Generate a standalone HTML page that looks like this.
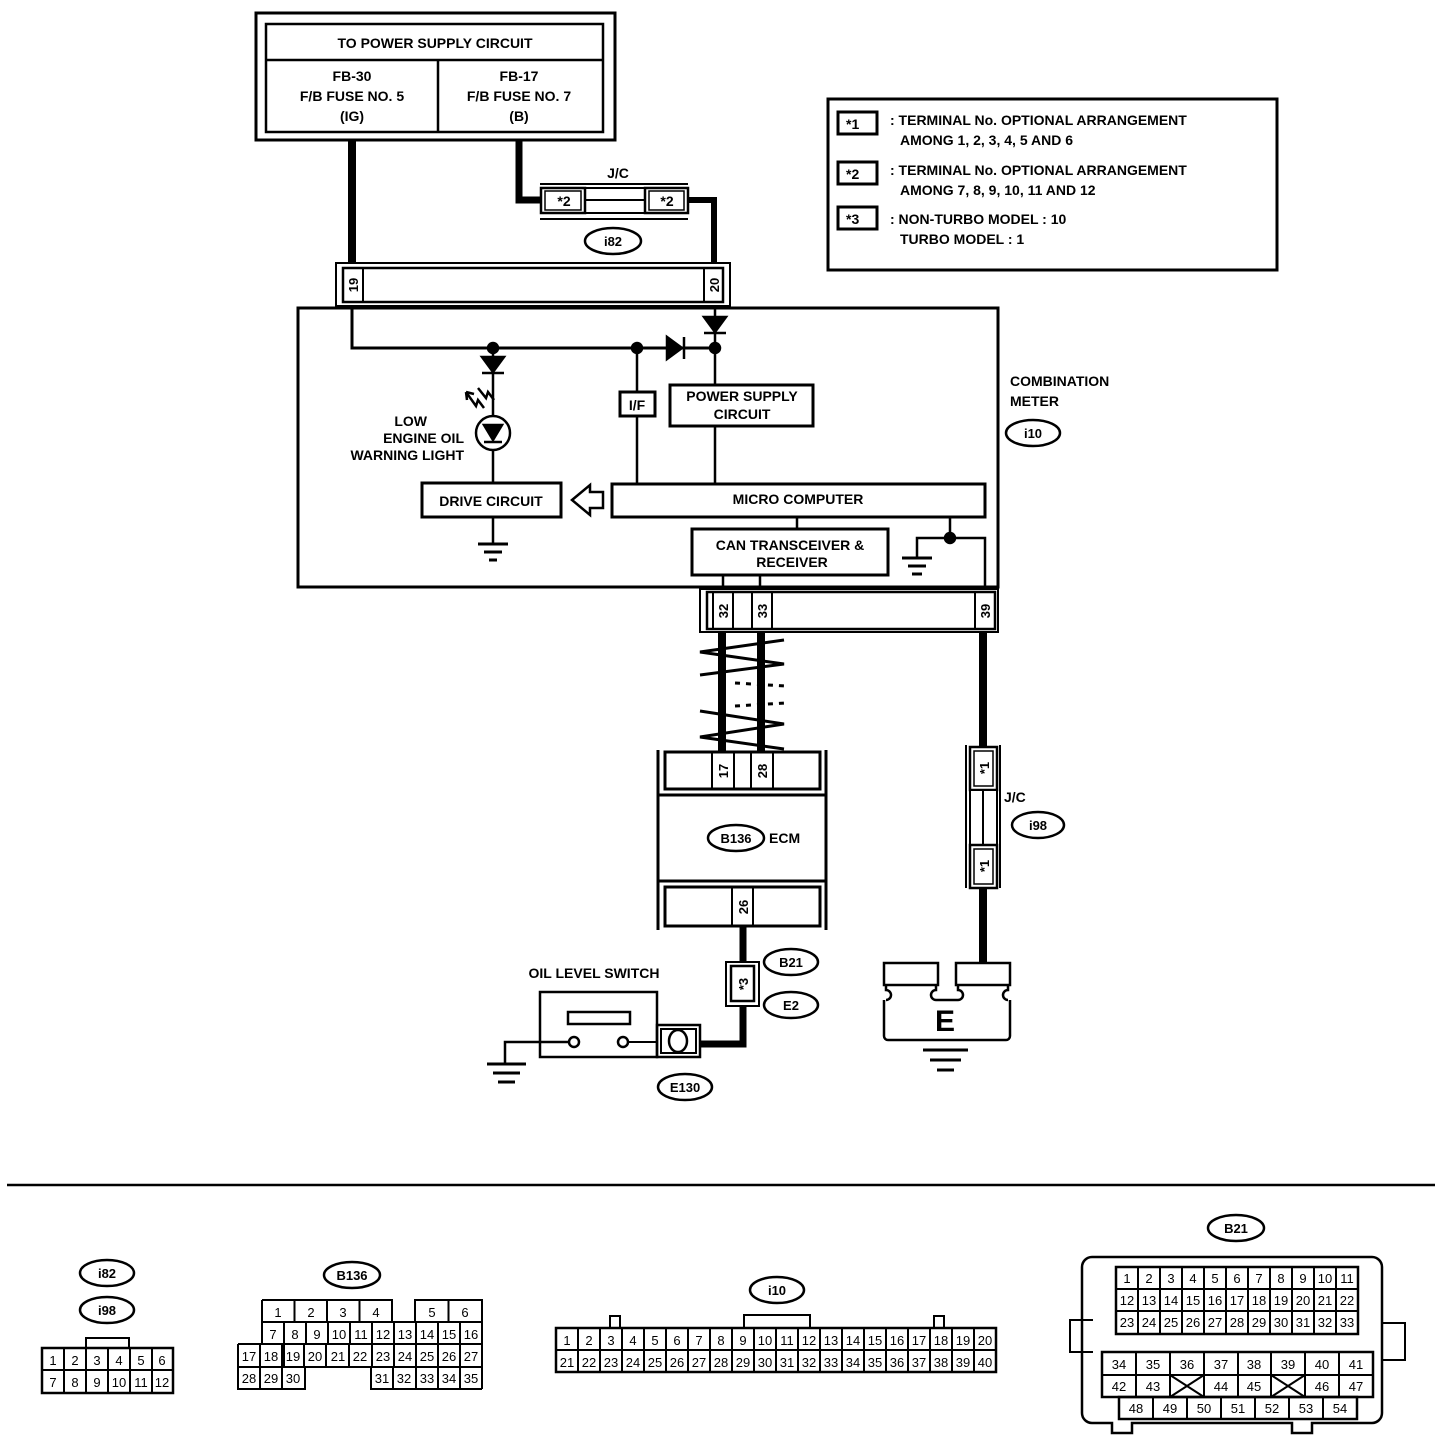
<!DOCTYPE html>
<html><head><meta charset="utf-8"><style>
html,body{margin:0;padding:0;background:#fff;}
svg{display:block;}
text{font-family:"Liberation Sans",sans-serif;fill:#000;}
.b{font-weight:bold;}
</style></head><body>
<svg width="1456" height="1448" viewBox="0 0 1456 1448" xmlns="http://www.w3.org/2000/svg">
<g fill="none" stroke="#000">
<rect x="256" y="13" width="359" height="127" stroke-width="3"/>
<rect x="266" y="24" width="337" height="108" stroke-width="2.5"/>
<line x1="266" y1="60" x2="603" y2="60" stroke-width="2.5"/>
<line x1="438" y1="60" x2="438" y2="132" stroke-width="2.5"/>
<line x1="352" y1="140" x2="352" y2="264" stroke-width="8"/>
<polyline points="519,140 519,200 542,200" stroke-width="7"/>
<polyline points="686,200 714,200 714,264" stroke-width="6"/>
<line x1="540" y1="184" x2="688" y2="184" stroke-width="2"/>
<line x1="540" y1="219" x2="688" y2="219" stroke-width="2"/>
<rect x="541" y="188" width="44" height="25" stroke-width="2.5" fill="#fff"/>
<rect x="545" y="191" width="36" height="19" stroke-width="1.5"/>
<rect x="585" y="188" width="60" height="25" stroke-width="2"/>
<line x1="585" y1="200" x2="645" y2="200" stroke-width="2"/>
<rect x="645" y="188" width="43" height="25" stroke-width="2.5" fill="#fff"/>
<rect x="649" y="191" width="35" height="19" stroke-width="1.5"/>
<ellipse cx="613" cy="241" rx="28" ry="13" stroke-width="2.5"/>
<rect x="336" y="263" width="394" height="43" stroke-width="2"/>
<rect x="343" y="268" width="380" height="34" stroke-width="2.5"/>
<line x1="363" y1="268" x2="363" y2="302" stroke-width="2"/>
<line x1="704" y1="268" x2="704" y2="302" stroke-width="2"/>
<rect x="298" y="308" width="700" height="279" stroke-width="3"/>
<polyline points="352,306 352,348 715,348" stroke-width="3"/>
<line x1="715" y1="306" x2="715" y2="484" stroke-width="2.5"/>
<line x1="637" y1="348" x2="637" y2="484" stroke-width="2.5"/>
<line x1="493" y1="348" x2="493" y2="484" stroke-width="2.5"/>
<line x1="797" y1="517" x2="797" y2="529" stroke-width="2.5"/>
<line x1="723" y1="575" x2="723" y2="592" stroke-width="2.5"/>
<line x1="760" y1="575" x2="760" y2="592" stroke-width="2.5"/>
<line x1="950" y1="517" x2="950" y2="538" stroke-width="2.5"/>
<polyline points="917,558 917,538 985,538 985,592" stroke-width="2.5"/>
<line x1="493" y1="517" x2="493" y2="543" stroke-width="2.5"/>
<rect x="422" y="483" width="139" height="34" stroke-width="3" fill="#fff"/>
<rect x="612" y="484" width="373" height="33" stroke-width="3" fill="#fff"/>
<rect x="620" y="392" width="35" height="24" stroke-width="3" fill="#fff"/>
<rect x="670" y="385" width="143" height="41" stroke-width="3" fill="#fff"/>
<rect x="692" y="529" width="196" height="46" stroke-width="3" fill="#fff"/>
<circle cx="493" cy="433" r="17" stroke-width="2.5" fill="#fff"/>
<polygon points="572,500 590,485 590,492 603,492 603,508 590,508 590,515" stroke-width="2.5"/>
<line x1="478" y1="544" x2="508" y2="544" stroke-width="3"/>
<line x1="484" y1="552" x2="502" y2="552" stroke-width="3"/>
<line x1="489" y1="560" x2="497" y2="560" stroke-width="3"/>
<line x1="902" y1="558" x2="932" y2="558" stroke-width="3"/>
<line x1="908" y1="566" x2="926" y2="566" stroke-width="3"/>
<line x1="912" y1="574" x2="922" y2="574" stroke-width="3"/>
<rect x="700" y="589" width="298" height="43" stroke-width="2" fill="#fff"/>
<rect x="707" y="592" width="288" height="37" stroke-width="2.5"/>
<line x1="713" y1="592" x2="713" y2="629" stroke-width="2"/>
<line x1="733" y1="592" x2="733" y2="629" stroke-width="2"/>
<line x1="752" y1="592" x2="752" y2="629" stroke-width="2"/>
<line x1="772" y1="592" x2="772" y2="629" stroke-width="2"/>
<line x1="975" y1="592" x2="975" y2="629" stroke-width="2"/>
<line x1="722" y1="632" x2="722" y2="754" stroke-width="8"/>
<line x1="761" y1="632" x2="761" y2="754" stroke-width="8"/>
<line x1="983" y1="632" x2="983" y2="747" stroke-width="8"/>
<g stroke-width="3">
<polyline points="784,640 700,652 784,664 700,675"/>
<polyline points="700,711 784,724 700,737 784,749"/>
</g>
<g stroke-width="3" stroke-dasharray="5,6">
<line x1="735" y1="683" x2="785" y2="686"/>
<line x1="735" y1="706" x2="785" y2="703"/>
</g>
<line x1="658" y1="750" x2="658" y2="930" stroke-width="3"/>
<line x1="826" y1="750" x2="826" y2="930" stroke-width="3"/>
<rect x="665" y="752" width="155" height="37" stroke-width="3" fill="#fff"/>
<line x1="712" y1="752" x2="712" y2="789" stroke-width="2"/>
<line x1="734" y1="752" x2="734" y2="789" stroke-width="2"/>
<line x1="751" y1="752" x2="751" y2="789" stroke-width="2"/>
<line x1="773" y1="752" x2="773" y2="789" stroke-width="2"/>
<line x1="658" y1="795" x2="826" y2="795" stroke-width="3"/>
<line x1="658" y1="881" x2="826" y2="881" stroke-width="3"/>
<rect x="665" y="887" width="155" height="39" stroke-width="3"/>
<line x1="732" y1="887" x2="732" y2="926" stroke-width="2"/>
<line x1="753" y1="887" x2="753" y2="926" stroke-width="2"/>
<ellipse cx="736" cy="838" rx="28" ry="13" stroke-width="2.5"/>
<polyline points="743,926 743,1044 700,1044" stroke-width="7"/>
<rect x="726" y="962" width="33" height="44" stroke-width="2" fill="#fff"/>
<rect x="731" y="966" width="23" height="35" stroke-width="2.5"/>
<ellipse cx="791" cy="962" rx="27" ry="13" stroke-width="2.5"/>
<ellipse cx="791" cy="1005" rx="27" ry="13" stroke-width="2.5"/>
<rect x="540" y="992" width="117" height="65" stroke-width="2.5"/>
<rect x="568" y="1012" width="62" height="12" stroke-width="2.5"/>
<circle cx="574" cy="1042" r="5" stroke-width="2.5"/>
<circle cx="623" cy="1042" r="5" stroke-width="2.5"/>
<line x1="628" y1="1042" x2="657" y2="1042" stroke-width="2"/>
<polyline points="569,1042 505,1042 505,1063" stroke-width="2.5"/>
<rect x="657" y="1025" width="43" height="32" stroke-width="2.5"/>
<rect x="661" y="1029" width="35" height="24" stroke-width="2"/>
<ellipse cx="678" cy="1041" rx="9" ry="11" stroke-width="2.5"/>
<line x1="487" y1="1064" x2="526" y2="1064" stroke-width="3"/>
<line x1="493" y1="1073" x2="520" y2="1073" stroke-width="3"/>
<line x1="498" y1="1082" x2="515" y2="1082" stroke-width="3"/>
<ellipse cx="685" cy="1087" rx="27" ry="13" stroke-width="2.5"/>
<line x1="983" y1="887" x2="983" y2="963" stroke-width="8"/>
<line x1="966" y1="745" x2="966" y2="888" stroke-width="2"/>
<line x1="1000" y1="745" x2="1000" y2="888" stroke-width="2"/>
<rect x="970" y="747" width="27" height="43" stroke-width="2.5" fill="#fff"/>
<rect x="974" y="751" width="19" height="35" stroke-width="1.5"/>
<rect x="970" y="790" width="27" height="55" stroke-width="2" fill="#fff"/>
<line x1="983" y1="790" x2="983" y2="845" stroke-width="2"/>
<rect x="970" y="845" width="27" height="43" stroke-width="2.5" fill="#fff"/>
<rect x="974" y="849" width="19" height="35" stroke-width="1.5"/>
<ellipse cx="1038" cy="825" rx="26" ry="13" stroke-width="2.5"/>
<ellipse cx="1033" cy="433" rx="27" ry="13" stroke-width="2.5"/>
<rect x="884" y="963" width="54" height="22" stroke-width="2.5"/>
<rect x="956" y="963" width="54" height="22" stroke-width="2.5"/>
<path d="M886,985 v5 a5,5 0 0 1 0,10 M936,985 v5 a5,5 0 0 0 0,10 M958,985 v5 a5,5 0 0 1 0,10 M1008,985 v5 a5,5 0 0 0 0,10 M936,1000 h22 M884,1000 v36 a4,4 0 0 0 4,4 h118 a4,4 0 0 0 4,-4 v-36" stroke-width="2.5"/>
<line x1="923" y1="1050" x2="968" y2="1050" stroke-width="3"/>
<line x1="930" y1="1060" x2="961" y2="1060" stroke-width="3"/>
<line x1="937" y1="1070" x2="954" y2="1070" stroke-width="3"/>
<rect x="828" y="99" width="449" height="171" stroke-width="3"/>
<rect x="838" y="112" width="39" height="22" stroke-width="3"/>
<rect x="838" y="162" width="39" height="22" stroke-width="3"/>
<rect x="838" y="207" width="39" height="22" stroke-width="3"/>
<line x1="7" y1="1185" x2="1435" y2="1185" stroke-width="2.5"/>
</g>
<g fill="#000" stroke="#000" stroke-width="2.5">
<circle cx="493" cy="348" r="5"/><circle cx="637" cy="348" r="5"/><circle cx="715" cy="348" r="5"/><circle cx="950" cy="538" r="5"/>
<polygon points="704,317 726,317 715,332"/><line x1="704" y1="333" x2="726" y2="333"/>
<polygon points="482,357 504,357 493,372"/><line x1="482" y1="373" x2="504" y2="373"/>
<polygon points="667,337 667,359 682,348"/><line x1="684" y1="337" x2="684" y2="359"/>
<polygon points="484,425 502,425 493,440"/><line x1="484" y1="442" x2="502" y2="442"/>
<path d="M466,392 l10,14 l2,-6 l6,8 M466,392 l8,2 M466,392 l1,8" fill="none"/>
<path d="M478,388 l8,10 l2,-6 l6,8" fill="none"/>
</g>
<g class="b" font-size="14" text-anchor="middle">
<text x="435" y="48">TO POWER SUPPLY CIRCUIT</text>
<text x="352" y="81">FB-30</text><text x="352" y="101">F/B FUSE NO. 5</text><text x="352" y="121">(IG)</text>
<text x="519" y="81">FB-17</text><text x="519" y="101">F/B FUSE NO. 7</text><text x="519" y="121">(B)</text>
<text x="618" y="178">J/C</text>
<text x="564" y="206">*2</text><text x="667" y="206">*2</text>
<text x="613" y="246" font-size="13">i82</text>
<text x="637" y="410">I/F</text>
<text x="742" y="401">POWER SUPPLY</text><text x="742" y="419">CIRCUIT</text>
<text x="491" y="506">DRIVE CIRCUIT</text>
<text x="798" y="504">MICRO COMPUTER</text>
<text x="790" y="550">CAN TRANSCEIVER &amp;</text><text x="792" y="567">RECEIVER</text>
<text x="736" y="843" font-size="13">B136</text>
<text x="791" y="967" font-size="13">B21</text>
<text x="791" y="1010" font-size="13">E2</text>
<text x="685" y="1092" font-size="13">E130</text>
<text x="1038" y="830" font-size="13">i98</text>
<text x="1033" y="438" font-size="13">i10</text>
<text x="594" y="978">OIL LEVEL SWITCH</text>
<text x="945" y="1031" font-size="30">E</text>
</g>
<g class="b" font-size="14">
<text x="427" y="426" text-anchor="end">LOW</text>
<text x="464" y="443" text-anchor="end">ENGINE OIL</text>
<text x="464" y="460" text-anchor="end">WARNING LIGHT</text>
<text x="769" y="843">ECM</text>
<text x="1010" y="386">COMBINATION</text><text x="1010" y="406">METER</text>
<text x="1004" y="802">J/C</text>
<text x="846" y="129">*1</text><text x="846" y="179">*2</text><text x="846" y="224">*3</text>
<text x="890" y="125">: TERMINAL No. OPTIONAL ARRANGEMENT</text>
<text x="900" y="145">AMONG 1, 2, 3, 4, 5 AND 6</text>
<text x="890" y="175">: TERMINAL No. OPTIONAL ARRANGEMENT</text>
<text x="900" y="195">AMONG 7, 8, 9, 10, 11 AND 12</text>
<text x="890" y="224">: NON-TURBO MODEL  : 10</text>
<text x="900" y="244">TURBO MODEL  : 1</text>
</g>
<g class="b" font-size="13" text-anchor="middle">
<text transform="translate(358,285) rotate(-90)">19</text>
<text transform="translate(719,285) rotate(-90)">20</text>
<text transform="translate(728,611) rotate(-90)">32</text>
<text transform="translate(767,611) rotate(-90)">33</text>
<text transform="translate(990,611) rotate(-90)">39</text>
<text transform="translate(728,771) rotate(-90)">17</text>
<text transform="translate(767,771) rotate(-90)">28</text>
<text transform="translate(748,907) rotate(-90)">26</text>
<text transform="translate(748,984) rotate(-90)">*3</text>
<text transform="translate(989,768) rotate(-90)">*1</text>
<text transform="translate(989,866) rotate(-90)">*1</text>
</g>
<g fill="none" stroke="#000" stroke-width="2.5">
<ellipse cx="107" cy="1273" rx="27" ry="13"/><ellipse cx="107" cy="1310" rx="27" ry="13"/>
<ellipse cx="352" cy="1275" rx="28" ry="13"/>
<ellipse cx="777" cy="1290" rx="27" ry="13"/>
<ellipse cx="1236" cy="1228" rx="28" ry="13"/>
<rect x="86" y="1338" width="43" height="10" stroke-width="2"/>
<rect x="42" y="1348" width="131" height="45"/>
<path d="M42,1370 h131 M64,1348 v45 M86,1348 v45 M108,1348 v45 M130,1348 v45 M152,1348 v45" stroke-width="2"/>
<path d="M262,1300 h130 v22 M262,1300 v22 M294.5,1300 v22 M327,1300 v22 M359.5,1300 v22 M415,1322 v-22 h67 v89 M448.5,1300 v22 M262,1322 h220 M238,1344 h244 M238,1367 h244 M238,1344 v45 h67 v-22 M371,1367 v22 h111 M260,1344 v45 M282,1344 v45 M304,1344 v23 M262,1322 v22 M284,1322 v45 M306,1322 v22 M328,1322 v22 M350,1322 v22 M372,1322 v45 M394,1322 v45 M416,1322 v67 M438,1322 v67 M460,1322 v67 M326,1344 v23 M349,1344 v23 M393,1367 v22" stroke-width="2"/>
<path d="M610,1328 v-12 h10 v12 M744,1328 v-13 h66 v13 M934,1328 v-12 h10 v12" stroke-width="2"/>
<rect x="556" y="1328" width="440" height="44"/>
<path d="M556,1350 h440 M578,1328v44 M600,1328v44 M622,1328v44 M644,1328v44 M666,1328v44 M688,1328v44 M710,1328v44 M732,1328v44 M754,1328v44 M776,1328v44 M798,1328v44 M820,1328v44 M842,1328v44 M864,1328v44 M886,1328v44 M908,1328v44 M930,1328v44 M952,1328v44 M974,1328v44" stroke-width="2"/>
<path d="M1104,1257 h268 a10,10 0 0 1 10,10 v146 a10,10 0 0 1 -10,10 h-60 v10 h-20 v-10 h-160 v10 h-20 v-10 h-20 a10,10 0 0 1 -10,-10 v-146 a10,10 0 0 1 10,-10 z"/>
<path d="M1093,1320 h-23 v32 h23 M1382,1323 h23 v37 h-23" stroke-width="2"/>
<rect x="1116" y="1267" width="242" height="67"/>
<path d="M1116,1289 h242 M1116,1311 h242 M1138,1267v67 M1160,1267v67 M1182,1267v67 M1204,1267v67 M1226,1267v67 M1248,1267v67 M1270,1267v67 M1292,1267v67 M1314,1267v67 M1336,1267v67" stroke-width="2"/>
<rect x="1102" y="1352" width="271" height="45"/>
<path d="M1102,1375 h271 M1136,1352v45 M1170,1352v45 M1204,1352v45 M1238,1352v45 M1271,1352v45 M1305,1352v45 M1339,1352v45 M1170,1375 l34,22 M1204,1375 l-34,22 M1271,1375 l34,22 M1305,1375 l-34,22" stroke-width="2"/>
<rect x="1119" y="1397" width="238" height="22"/>
<path d="M1153,1397v22 M1187,1397v22 M1221,1397v22 M1255,1397v22 M1289,1397v22 M1323,1397v22" stroke-width="2"/>
</g>
<g class="b" font-size="13" text-anchor="middle">
<text x="107" y="1278">i82</text><text x="107" y="1315">i98</text>
<text x="352" y="1280">B136</text><text x="777" y="1295">i10</text><text x="1236" y="1233">B21</text>
</g>
<g font-size="13" text-anchor="middle">
<text x="53" y="1365">1</text><text x="75" y="1365">2</text><text x="97" y="1365">3</text><text x="119" y="1365">4</text><text x="141" y="1365">5</text><text x="162" y="1365">6</text>
<text x="53" y="1387">7</text><text x="75" y="1387">8</text><text x="97" y="1387">9</text><text x="119" y="1387">10</text><text x="141" y="1387">11</text><text x="162" y="1387">12</text>
<text x="278" y="1317">1</text><text x="311" y="1317">2</text><text x="343" y="1317">3</text><text x="376" y="1317">4</text><text x="432" y="1317">5</text><text x="465" y="1317">6</text>
<text x="273" y="1339">7</text><text x="295" y="1339">8</text><text x="317" y="1339">9</text><text x="339" y="1339">10</text><text x="361" y="1339">11</text><text x="383" y="1339">12</text><text x="405" y="1339">13</text><text x="427" y="1339">14</text><text x="449" y="1339">15</text><text x="471" y="1339">16</text>
<text x="249" y="1361">17</text><text x="271" y="1361">18</text><text x="293" y="1361">19</text><text x="315" y="1361">20</text><text x="338" y="1361">21</text><text x="360" y="1361">22</text><text x="383" y="1361">23</text><text x="405" y="1361">24</text><text x="427" y="1361">25</text><text x="449" y="1361">26</text><text x="471" y="1361">27</text>
<text x="249" y="1383">28</text><text x="271" y="1383">29</text><text x="293" y="1383">30</text><text x="382" y="1383">31</text><text x="404" y="1383">32</text><text x="427" y="1383">33</text><text x="449" y="1383">34</text><text x="471" y="1383">35</text>
<text x="567" y="1345">1</text><text x="589" y="1345">2</text><text x="611" y="1345">3</text><text x="633" y="1345">4</text><text x="655" y="1345">5</text><text x="677" y="1345">6</text><text x="699" y="1345">7</text><text x="721" y="1345">8</text><text x="743" y="1345">9</text><text x="765" y="1345">10</text><text x="787" y="1345">11</text><text x="809" y="1345">12</text><text x="831" y="1345">13</text><text x="853" y="1345">14</text><text x="875" y="1345">15</text><text x="897" y="1345">16</text><text x="919" y="1345">17</text><text x="941" y="1345">18</text><text x="963" y="1345">19</text><text x="985" y="1345">20</text>
<text x="567" y="1367">21</text><text x="589" y="1367">22</text><text x="611" y="1367">23</text><text x="633" y="1367">24</text><text x="655" y="1367">25</text><text x="677" y="1367">26</text><text x="699" y="1367">27</text><text x="721" y="1367">28</text><text x="743" y="1367">29</text><text x="765" y="1367">30</text><text x="787" y="1367">31</text><text x="809" y="1367">32</text><text x="831" y="1367">33</text><text x="853" y="1367">34</text><text x="875" y="1367">35</text><text x="897" y="1367">36</text><text x="919" y="1367">37</text><text x="941" y="1367">38</text><text x="963" y="1367">39</text><text x="985" y="1367">40</text>
<text x="1127" y="1283">1</text><text x="1149" y="1283">2</text><text x="1171" y="1283">3</text><text x="1193" y="1283">4</text><text x="1215" y="1283">5</text><text x="1237" y="1283">6</text><text x="1259" y="1283">7</text><text x="1281" y="1283">8</text><text x="1303" y="1283">9</text><text x="1325" y="1283">10</text><text x="1347" y="1283">11</text>
<text x="1127" y="1305">12</text><text x="1149" y="1305">13</text><text x="1171" y="1305">14</text><text x="1193" y="1305">15</text><text x="1215" y="1305">16</text><text x="1237" y="1305">17</text><text x="1259" y="1305">18</text><text x="1281" y="1305">19</text><text x="1303" y="1305">20</text><text x="1325" y="1305">21</text><text x="1347" y="1305">22</text>
<text x="1127" y="1327">23</text><text x="1149" y="1327">24</text><text x="1171" y="1327">25</text><text x="1193" y="1327">26</text><text x="1215" y="1327">27</text><text x="1237" y="1327">28</text><text x="1259" y="1327">29</text><text x="1281" y="1327">30</text><text x="1303" y="1327">31</text><text x="1325" y="1327">32</text><text x="1347" y="1327">33</text>
<text x="1119" y="1369">34</text><text x="1153" y="1369">35</text><text x="1187" y="1369">36</text><text x="1221" y="1369">37</text><text x="1254" y="1369">38</text><text x="1288" y="1369">39</text><text x="1322" y="1369">40</text><text x="1356" y="1369">41</text>
<text x="1119" y="1391">42</text><text x="1153" y="1391">43</text><text x="1221" y="1391">44</text><text x="1254" y="1391">45</text><text x="1322" y="1391">46</text><text x="1356" y="1391">47</text>
<text x="1136" y="1413">48</text><text x="1170" y="1413">49</text><text x="1204" y="1413">50</text><text x="1238" y="1413">51</text><text x="1272" y="1413">52</text><text x="1306" y="1413">53</text><text x="1340" y="1413">54</text>
</g>
</svg>
</body></html>
